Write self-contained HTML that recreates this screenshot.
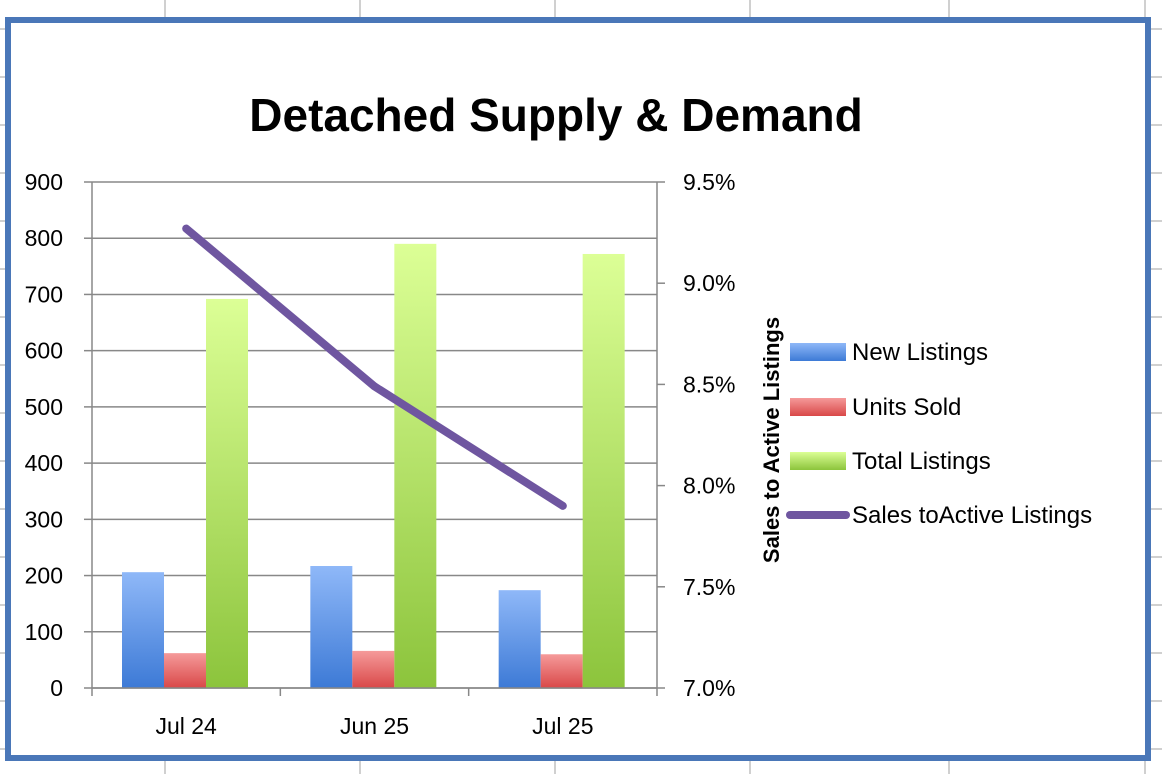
<!DOCTYPE html>
<html><head><meta charset="utf-8"><style>
body{margin:0;background:#fff;width:1162px;height:774px;overflow:hidden;font-family:"Liberation Sans",sans-serif}
svg text{font-family:"Liberation Sans",sans-serif}
</style></head><body>
<svg id="chart" width="1162" height="774">
<defs>
<linearGradient id="gb" x1="0" y1="0" x2="0" y2="1"><stop offset="0" stop-color="#8fb8f8"/><stop offset="1" stop-color="#3d7ad6"/></linearGradient>
<linearGradient id="gr" x1="0" y1="0" x2="0" y2="1"><stop offset="0" stop-color="#f59a9a"/><stop offset="1" stop-color="#d94848"/></linearGradient>
<linearGradient id="gg" x1="0" y1="0" x2="0" y2="1"><stop offset="0" stop-color="#dcff96"/><stop offset="1" stop-color="#8cc43c"/></linearGradient>
</defs>
<g id="sheet"></g>
<rect x="8" y="20" width="1140" height="738" fill="#fff" stroke="#4a77b8" stroke-width="6"/>
<text x="556" y="131" text-anchor="middle" font-size="46" font-weight="bold">Detached Supply &amp; Demand</text>
<g id="grid"></g><g id="bars"></g><g id="axes"></g><g id="line"></g>
<text transform="translate(779,440) rotate(-90)" text-anchor="middle" font-size="22" font-weight="bold">Sales to Active Listings</text>
<g id="legend"></g>
</svg>
<script>
const categories=["Jul 24","Jun 25","Jul 25"];
const newListings=[206,217,174];
const unitsSold=[62,66,60];
const totalListings=[692,790,772];
const salesRatio=[9.27,8.49,7.90];
const yTicks=[0,100,200,300,400,500,600,700,800,900];
const y2Ticks=[7.0,7.5,8.0,8.5,9.0,9.5];
const NS="http://www.w3.org/2000/svg";
const L=92,R=657,T=182,B=688;
const y=v=>B-(v/900)*(B-T);
const y2=v=>B-((v-7)/2.5)*(B-T);
const gw=(R-L)/categories.length;
function mk(p,t,a){const e=document.createElementNS(NS,t);for(const k in a)e.setAttribute(k,a[k]);document.getElementById(p).appendChild(e);return e;}
for(let k=0;k<17;k++){const e=mk('sheet','line',{x1:0,x2:1162,y1:29+48*k,y2:29+48*k,stroke:'#d0d0d0','stroke-width':2});

}
[165,360,555,750,949,1145].forEach(x=>{const e=mk('sheet','line',{x1:x,x2:x,y1:0,y2:774,stroke:'#d0d0d0','stroke-width':2});

});
yTicks.forEach(v=>{
 const g=mk('grid','line',{x1:L,x2:R,y1:y(v),y2:y(v),stroke:'#888','stroke-width':1.5});
 
 
 mk('axes','line',{x1:L-8,x2:L,y1:y(v),y2:y(v),stroke:'#888','stroke-width':1.5});
 const t=mk('axes','text',{x:63,y:y(v)+8,'text-anchor':'end','font-size':23});t.textContent=v;
 
 
});
y2Ticks.forEach(v=>{
 mk('axes','line',{x1:R,x2:R+8,y1:y2(v),y2:y2(v),stroke:'#888','stroke-width':1.5});
 const t=mk('axes','text',{x:683,y:y2(v)+8,'font-size':23});t.textContent=v.toFixed(1)+'%';
 
 
});
mk('axes','line',{x1:L,x2:L,y1:T,y2:B,stroke:'#888','stroke-width':1.5});
mk('axes','line',{x1:R,x2:R,y1:T,y2:B,stroke:'#888','stroke-width':1.5});
mk('axes','line',{x1:L,x2:R,y1:B,y2:B,stroke:'#888','stroke-width':1.5});
const series=[[newListings,'url(#gb)','bar-new-listings'],[unitsSold,'url(#gr)','bar-units-sold'],[totalListings,'url(#gg)','bar-total-listings']];
const bw=42,off=30;
categories.forEach((c,i)=>{
 const gx=L+gw*i;
 mk('axes','line',{x1:gx,x2:gx,y1:B,y2:B+8,stroke:'#888','stroke-width':1.5});
 const t=mk('axes','text',{x:gx+gw/2,y:B+46,'text-anchor':'middle','font-size':23});t.textContent=c;
 
 
 series.forEach((s,j)=>{
  const r=mk('bars','rect',{x:gx+off+j*bw,y:y(s[0][i]),width:bw,height:B-y(s[0][i]),fill:s[1]});
  
  
 });
});
mk('axes','line',{x1:R,x2:R,y1:B,y2:B+8,stroke:'#888','stroke-width':1.5});
const pts=salesRatio.map((v,i)=>(L+gw*i+gw/2)+','+y2(v)).join(' ');
const pl=mk('line','polyline',{points:pts,fill:'none',stroke:'#6f56a0','stroke-width':8,'stroke-linecap':'round','stroke-linejoin':'round'});


const leg=[['New Listings','url(#gb)',352],['Units Sold','url(#gr)',407],['Total Listings','url(#gg)',461]];
leg.forEach(l=>{
 const r=mk('legend','rect',{x:790,y:l[2]-9,width:56,height:18,fill:l[1]});
 
 
 const t=mk('legend','text',{x:852,y:l[2]+8,'font-size':24});t.textContent=l[0];
 
 
});
const ll=mk('legend','line',{x1:790,x2:846,y1:515,y2:515,stroke:'#6f56a0','stroke-width':8,'stroke-linecap':'round'});


const lt=mk('legend','text',{x:852,y:523,'font-size':24});lt.textContent='Sales toActive Listings';


</script>
</body></html>
